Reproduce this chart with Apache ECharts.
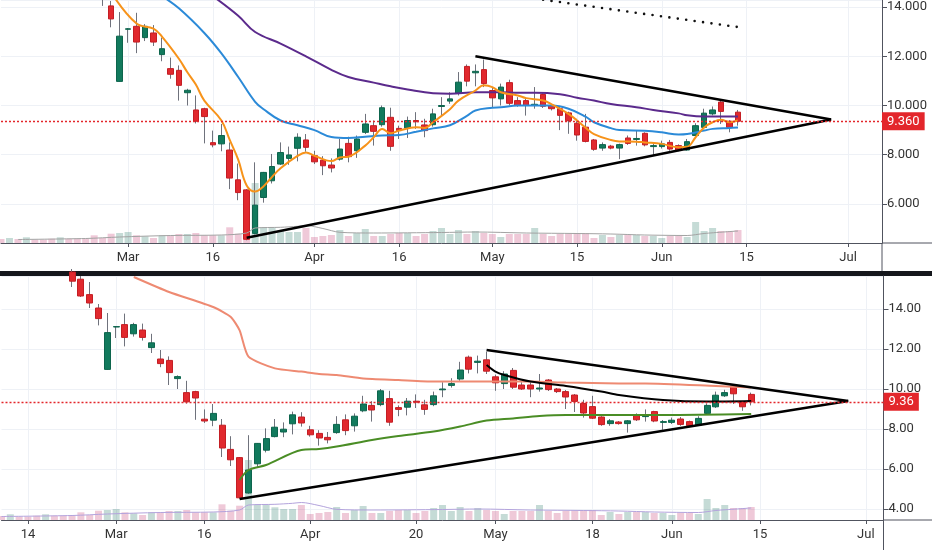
<!DOCTYPE html>
<html>
<head>
<meta charset="utf-8">
<script src="https://cdn.jsdelivr.net/npm/echarts@6/dist/echarts.min.js"></script>
<style>
html, body { margin: 0; padding: 0; background: #fff; }
#chart { width: 932px; height: 550px; }
</style>
</head>
<body>
<div id="chart"></div>
<script>
// trading days (US calendar, 2020)
var dates = [
    '02-07', '02-10', '02-11', '02-12', '02-13', '02-14', '02-18', '02-19', '02-20', '02-21',
    '02-24', '02-25', '02-26', '02-27', '02-28',
    '03-02', '03-03', '03-04', '03-05', '03-06', '03-09', '03-10', '03-11', '03-12', '03-13',
    '03-16', '03-17', '03-18', '03-19', '03-20', '03-23', '03-24', '03-25', '03-26', '03-27',
    '03-30', '03-31',
    '04-01', '04-02', '04-03', '04-06', '04-07', '04-08', '04-09', '04-13', '04-14', '04-15',
    '04-16', '04-17', '04-20', '04-21', '04-22', '04-23', '04-24', '04-27', '04-28', '04-29', '04-30',
    '05-01', '05-04', '05-05', '05-06', '05-07', '05-08', '05-11', '05-12', '05-13', '05-14',
    '05-15', '05-18', '05-19', '05-20', '05-21', '05-22', '05-26', '05-27', '05-28', '05-29',
    '06-01', '06-02', '06-03', '06-04', '06-05', '06-08', '06-09', '06-10', '06-11', '06-12',
    '06-15', '06-16', '06-17', '06-18', '06-19', '06-22', '06-23', '06-24', '06-25', '06-26',
    '06-29', '06-30', '07-01', '07-02', '07-06', '07-07', '07-08'
];

var topTickDates = ['03-02', '03-16', '04-01', '04-16', '05-01', '05-15', '06-01', '06-15', '07-01'];
var topTickText = ['Mar', '16', 'Apr', '16', 'May', '15', 'Jun', '15', 'Jul'];
var botTickDates = ['02-14', '03-02', '03-16', '04-01', '04-20', '05-01', '05-18', '06-01', '06-15', '07-01'];
var botTickText = ['14', 'Mar', '16', 'Apr', '20', 'May', '18', 'Jun', '15', 'Jul'];

// [open, close, low, high], first row is 02-24
var firstCandle = 10;
var candles = [
    [15.85, 15.39, 15.1, 16.0], [15.49, 14.65, 14.6, 15.65], [14.72, 14.3, 14.05, 15.35],
    [14.05, 13.52, 13.18, 14.25], [10.98, 12.82, 10.97, 13.8],
    [13.1, 13.12, 12.55, 13.15], [13.22, 12.58, 12.13, 13.77], [12.76, 13.22, 12.62, 13.31],
    [12.95, 12.58, 12.42, 13.27], [12.07, 12.31, 11.8, 12.76],
    [11.5, 11.27, 11.09, 11.95], [11.43, 10.82, 10.2, 11.63], [10.52, 10.62, 10.0, 10.68],
    [9.82, 9.36, 9.27, 10.41], [9.87, 9.55, 8.46, 9.91],
    [8.49, 8.4, 8.3, 8.98], [8.44, 8.78, 8.14, 9.25], [8.19, 7.05, 6.6, 8.5],
    [6.98, 6.46, 6.15, 7.64], [6.57, 4.56, 4.52, 6.6],
    [4.8, 5.95, 4.76, 7.69], [6.26, 7.28, 6.05, 7.3], [6.94, 7.52, 6.83, 8.03],
    [7.62, 8.09, 7.58, 8.5], [7.85, 7.99, 7.59, 8.33],
    [8.26, 8.71, 7.73, 8.87], [8.6, 8.3, 8.12, 8.84],
    [7.96, 7.71, 7.62, 8.16], [7.78, 7.55, 7.17, 7.94], [7.58, 7.46, 7.28, 7.85],
    [7.82, 8.23, 7.76, 8.64], [8.46, 7.92, 7.69, 8.73], [8.16, 8.64, 7.87, 8.78], [8.91, 9.25, 8.84, 9.66],
    [9.18, 8.95, 8.37, 9.39], [9.22, 9.91, 9.14, 10.0], [9.52, 8.34, 8.16, 9.91],
    [9.07, 8.98, 8.64, 9.18], [9.09, 9.39, 8.68, 9.55],
    [9.39, 9.34, 9.05, 9.73], [9.21, 8.98, 8.71, 9.46], [9.22, 9.66, 9.14, 9.87],
    [9.96, 10.0, 9.59, 10.34], [10.18, 10.27, 10.07, 10.54],
    [10.5, 10.95, 10.41, 11.36], [11.59, 10.99, 10.78, 11.67], [11.33, 11.39, 10.78, 11.67],
    [11.46, 10.89, 10.75, 11.87],
    [10.61, 10.31, 9.91, 10.72],
    [10.27, 10.75, 10.0, 10.89], [10.93, 10.09, 10.0, 11.05], [10.2, 10.0, 9.95, 10.34],
    [10.2, 10.0, 9.59, 10.34], [10.0, 10.05, 9.87, 10.75],
    [10.45, 9.97, 9.9, 10.5], [10.0, 9.87, 9.8, 10.05], [9.87, 9.6, 9.0, 9.95],
    [9.7, 9.38, 8.85, 9.75], [9.28, 8.8, 8.57, 9.46],
    [9.12, 8.54, 8.5, 9.66], [8.6, 8.22, 8.16, 8.64], [8.27, 8.41, 8.16, 8.5],
    [8.35, 8.27, 8.22, 8.4], [8.27, 8.41, 7.82, 8.45],
    [8.68, 8.46, 8.4, 8.78], [8.62, 8.66, 8.37, 8.98], [8.87, 8.4, 8.34, 8.91], [8.33, 8.37, 7.96, 8.45],
    [8.33, 8.44, 8.25, 8.57], [8.5, 8.23, 8.16, 8.6], [8.37, 8.17, 8.14, 8.42],
    [8.19, 8.53, 8.16, 8.64], [8.78, 9.18, 8.75, 9.28],
    [9.11, 9.69, 9.05, 9.87], [9.66, 9.82, 9.6, 9.96], [10.14, 9.76, 9.25, 10.2],
    [9.36, 9.11, 8.91, 9.4], [9.73, 9.36, 9.18, 9.82]
];

// volume (M), from 02-07
var volumes = [
    4, 5, 4, 5.7, 3.3, 3.3, 4.3, 5.7, 4.3, 4.3,
    4, 7.7, 5, 9.3, 10, 11, 7.7, 6.7, 5, 7.7,
    7.7, 9, 9, 10, 7.7, 7.7, 7.7, 15.7, 9.3, 14.3,
    60, 15.7, 15.7, 12.7, 11, 11, 15, 6, 7, 8,
    13, 7, 10, 14, 7, 7, 9, 10, 10, 7,
    9, 12, 15, 9, 13, 9, 12, 10, 9, 6,
    9, 9, 9, 15, 9, 7, 9, 9, 10, 10,
    5, 8, 6, 8, 8, 8, 7, 7, 5, 7,
    7, 6, 21, 12, 15, 12, 12, 13
];
// up/down of the volume bars before the first visible candle
var earlyVolUp = [0, 1, 0, 1, 0, 0, 0, 1, 0, 0];
var volMa = [[2, 3.5], [10, 4.5], [14, 6], [20, 7.5], [26, 8], [29, 10], [30, 15], [33, 15.7], [35, 16.7],
    [36, 17.5], [38, 14.5], [40, 10.7], [44, 10], [52, 10.5], [56, 11], [62, 10], [68, 9.5], [72, 9],
    [76, 8], [81, 7.5], [83, 9.5], [87, 12]];

// top panel averages, [day index, price]
var maFast = [[13, 14.6], [16, 13.33], [18, 13.13], [19, 12.8], [21, 11.9], [22, 11.35], [23, 10.85],
    [24, 10.2], [26, 9.4], [27, 8.6], [28, 7.8], [29, 6.75], [30, 6.5], [31, 6.72], [32, 7.1], [33, 7.45],
    [35, 7.95], [36, 8.09], [37, 7.96], [39, 7.74], [40, 7.89], [41, 7.92], [43, 8.37], [44, 8.71],
    [45, 9.05], [46, 8.87], [47, 8.98], [49, 9.12], [50, 9.09], [51, 9.32], [53, 9.85], [54, 10.2],
    [56, 10.61], [57, 10.82], [58, 10.75], [59, 10.54], [61, 10.41], [62, 10.3], [64, 10.2], [65, 10.05],
    [67, 9.66], [69, 9.1], [70, 8.84], [72, 8.6], [73, 8.54], [75, 8.53], [76, 8.5], [78, 8.44],
    [80, 8.3], [81, 8.32], [82, 8.71], [83, 9.11], [84, 9.32], [85, 9.42], [86, 9.32], [87, 9.39]];
var maMid = [[19, 14.45], [21, 13.95], [24, 12.95], [26, 12.13], [28, 11.16], [30, 10.15], [31, 9.85],
    [33, 9.39], [35, 9.2], [37, 9.0], [39, 8.72], [41, 8.68], [43, 8.73], [45, 8.78], [47, 8.8],
    [49, 8.93], [51, 9.07], [53, 9.2], [55, 9.58], [56, 9.8], [58, 9.91], [59, 9.93], [61, 10.0],
    [64, 10.0], [65, 10.0], [67, 9.87], [69, 9.55], [70, 9.32], [72, 9.08], [73, 9.0], [76, 8.97],
    [78, 8.91], [80, 8.82], [81, 8.84], [83, 8.98], [84, 9.05], [86, 9.09], [87, 9.11]];
var maSlow = [[25, 14.45], [28, 13.65], [30, 12.99], [33, 12.52], [36, 12.0], [39, 11.45], [41, 11.16],
    [44, 10.93], [46, 10.78], [48, 10.65], [51, 10.5], [53, 10.48], [56, 10.54], [59, 10.54], [61, 10.52],
    [63, 10.52], [66, 10.46], [68, 10.32], [70, 10.2], [72, 10.06], [75, 9.93], [77, 9.82], [80, 9.68],
    [81, 9.6], [83, 9.55], [87, 9.55]];
var maDots = [[63, 14.35], [87, 13.19]];
var topUpper = [[56, 12.0], [98, 9.43]];
var topLower = [[29, 4.62], [98, 9.43]];

// bottom panel lines
var maLong = [[17, 15.6], [21, 14.85], [26, 14.1], [28, 13.6], [29, 12.93], [30, 11.62], [33, 11.03],
    [36, 10.87], [38, 10.75], [40, 10.7], [43, 10.53], [47, 10.45], [51, 10.37], [55, 10.37],
    [59, 10.37], [62, 10.37], [66, 10.32], [72, 10.28], [75, 10.28], [83, 10.15], [87, 10.08]];
var maGreen = [[29, 5.45], [30, 5.95], [32, 6.2], [36, 6.95], [38, 7.0], [40, 7.12], [44, 7.45],
    [47, 7.65], [51, 7.87], [54, 8.12], [57, 8.42], [60, 8.53], [63, 8.65], [66, 8.7], [72, 8.7],
    [77, 8.7], [87, 8.75]];
var vwapLine = [[57, 11.2], [58, 10.87], [59, 10.7], [62, 10.37], [66, 10.15], [70, 9.87], [72, 9.7],
    [77, 9.45], [82, 9.37], [87, 9.4]];
var botUpper = [[57, 11.95], [98, 9.4]];
var botLower = [[29, 4.5], [98, 9.4]];

var upColor = '#127a5d';
var upBorder = '#0d654d';
var downColor = '#e1292e';
var downBorder = '#c41e24';
var priceColor = '#e3262b';
var wickColor = '#6f727c';
var volUpColor = 'rgba(30,115,95,0.26)';
var volDownColor = 'rgba(190,40,100,0.25)';
var gridColor = '#eef1f6';
var axisColor = '#50535e';
var textColor = '#333';
var fontName = 'Roboto';
var lastPrice = candles[candles.length - 1][1];

// rows for every day from index 0, empty before the first candle
function padRows(rows) {
    var out = [];
    for (var i = 0; i < firstCandle; i++) {
        out.push(['-', '-', '-', '-']);
    }
    return out.concat(rows);
}

function wickData() {
    return padRows(candles.map(function (c) { return [c[0], c[1], c[2], c[3]]; }));
}

function bodyData() {
    return padRows(candles.map(function (c) {
        return [c[0], c[1], Math.min(c[0], c[1]), Math.max(c[0], c[1])];
    }));
}

function volData() {
    return volumes.map(function (v, i) {
        var c = candles[i - firstCandle];
        var isUp = c ? c[1] >= c[0] : earlyVolUp[i] === 1;
        return { value: v, itemStyle: { color: isUp ? volUpColor : volDownColor } };
    });
}

function makeX(gridIndex, min, max, tickDates, tickText) {
    var tickIdx = tickDates.map(function (d) { return dates.indexOf(d); });
    var pick = function (idx) { return tickIdx.indexOf(idx) >= 0; };
    return {
        type: 'category', gridIndex: gridIndex, data: dates, boundaryGap: false, min: min, max: max,
        axisLine: { lineStyle: { color: axisColor } },
        axisTick: { interval: pick, length: 4, lineStyle: { color: axisColor } },
        axisLabel: {
            interval: pick, margin: 8, color: textColor, fontSize: 13, fontFamily: fontName,
            formatter: function (val) {
                var k = tickDates.indexOf(val);
                return k >= 0 ? tickText[k] : '';
            }
        },
        splitLine: { show: true, interval: pick, lineStyle: { color: gridColor } }
    };
}

function makeY(gridIndex, min, max, decimals) {
    return {
        type: 'value', gridIndex: gridIndex, position: 'right', min: min, max: max, scale: true,
        axisLine: { show: true, lineStyle: { color: axisColor } },
        axisTick: { show: true, length: 5, lineStyle: { color: axisColor } },
        axisLabel: {
            margin: 5, color: textColor, fontSize: 13, fontFamily: fontName,
            showMinLabel: false, showMaxLabel: false,
            formatter: function (v) {
                return Math.abs(v - 2 * Math.round(v / 2)) < 1e-6 ? v.toFixed(decimals) : '';
            }
        },
        splitLine: { show: true, lineStyle: { color: gridColor } }
    };
}

function lineSeries(xi, yi, data, color, width, smooth) {
    return {
        type: 'line', xAxisIndex: xi, yAxisIndex: yi, data: data, showSymbol: false, symbol: 'none',
        smooth: smooth, lineStyle: { color: color, width: width }, silent: true, z: 3
    };
}

function priceSeries(xi, yi, bodyWidth, decimals) {
    return [{
        type: 'candlestick', xAxisIndex: xi, yAxisIndex: yi, data: wickData(), barWidth: 0.5,
        itemStyle: { color: wickColor, color0: wickColor, borderColor: wickColor, borderColor0: wickColor, borderWidth: 1 },
        clip: true, silent: true
    }, {
        type: 'candlestick', xAxisIndex: xi, yAxisIndex: yi, data: bodyData(), barWidth: bodyWidth,
        itemStyle: { color: upColor, color0: downColor, borderColor: upBorder, borderColor0: downBorder, borderWidth: 1 },
        clip: true, silent: true
    }, {
        // last price line with its axis tag
        type: 'line', xAxisIndex: xi, yAxisIndex: yi, data: [], silent: true, z: 4,
        itemStyle: { color: priceColor },
        markLine: {
            symbol: ['none', 'none'], silent: true, animation: false, precision: 2,
            lineStyle: { color: priceColor, type: [2, 2], width: 1.4, opacity: 1 },
            label: {
                position: 'end', distance: 0, color: '#fff', backgroundColor: priceColor,
                padding: [3, 5, 2, 5], fontSize: 13, fontFamily: fontName,
                formatter: function (p) { return Number(p.value).toFixed(decimals); }
            },
            data: [{ yAxis: lastPrice }]
        }
    }];
}

function volSeries(xi, yi, maColor) {
    return [{
        type: 'bar', xAxisIndex: xi, yAxisIndex: yi, data: volData(), barWidth: 7, silent: true
    }, lineSeries(xi, yi, volMa, maColor, 1, 0.3)];
}

var series = [].concat(
    volSeries(0, 1, '#a3a3a3'),
    priceSeries(0, 0, 6, 3),
    [
        lineSeries(0, 0, maSlow, '#5b2a8c', 2, 0.4),
        lineSeries(0, 0, maMid, '#2b8ad8', 2, 0.4),
        lineSeries(0, 0, maFast, '#f7931a', 2, 0.4),
        {
            type: 'line', xAxisIndex: 0, yAxisIndex: 0, data: maDots, showSymbol: false, symbol: 'none',
            lineStyle: { color: '#111', width: 2.6, type: [0, 8.5], cap: 'round' }, silent: true
        },
        lineSeries(0, 0, topUpper, '#000', 2.5, false),
        lineSeries(0, 0, topLower, '#000', 2.5, false)
    ],
    volSeries(1, 3, '#b3a3dc'),
    priceSeries(1, 2, 6.5, 2),
    [
        lineSeries(1, 2, maLong, '#ee8a72', 2, 0.2),
        lineSeries(1, 2, maGreen, '#4a8d25', 2, 0.3),
        lineSeries(1, 2, vwapLine, '#000', 2, 0.3),
        lineSeries(1, 2, botUpper, '#000', 2.5, false),
        lineSeries(1, 2, botLower, '#000', 2.5, false)
    ]
);

var chart = echarts.init(document.getElementById('chart'));
chart.setOption({
    animation: false,
    backgroundColor: '#fff',
    textStyle: { fontFamily: fontName },
    grid: [
        { left: 1, right: 50, top: 0, height: 243 },
        { left: 1.5, right: 48.5, top: 276, height: 244 }
    ],
    xAxis: [
        makeX(0, 0, 104, topTickDates, topTickText),
        makeX(1, 2, 102, botTickDates, botTickText)
    ],
    yAxis: [
        makeY(0, 4.41, 14.29, 3),
        { type: 'value', gridIndex: 0, min: 0, max: 243, show: false, splitLine: { show: false } },
        makeY(1, 3.45, 15.65, 2),
        { type: 'value', gridIndex: 1, min: 0, max: 244, show: false, splitLine: { show: false } }
    ],
    graphic: [
        { type: 'line', shape: { x1: 882, y1: 243, x2: 932, y2: 243 }, style: { stroke: axisColor, lineWidth: 1 } },
        { type: 'line', shape: { x1: 882, y1: 243, x2: 882, y2: 271 }, style: { stroke: axisColor, lineWidth: 1 } },
        { type: 'rect', shape: { x: 0, y: 271, width: 932, height: 5 }, style: { fill: '#15171c' } },
        { type: 'line', shape: { x1: 883.5, y1: 520, x2: 932, y2: 520 }, style: { stroke: axisColor, lineWidth: 1 } },
        { type: 'line', shape: { x1: 883.5, y1: 520, x2: 883.5, y2: 550 }, style: { stroke: axisColor, lineWidth: 1 } }
    ],
    series: series
});
</script>
</body>
</html>
